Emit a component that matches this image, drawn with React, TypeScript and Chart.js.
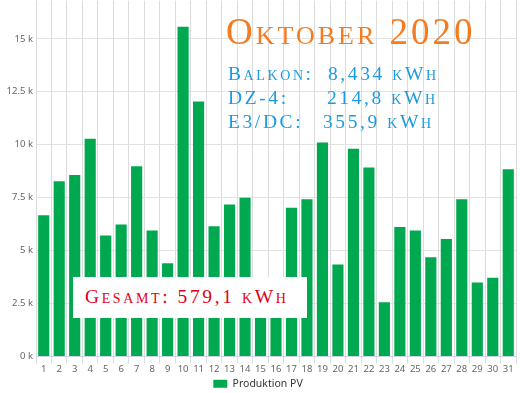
import React, { useEffect, useRef } from "react";
import { Chart, registerables } from "chart.js";

Chart.register(...registerables);

const days = ["1","2","3","4","5","6","7","8","9","10","11","12","13","14","15","16","17","18","19","20","21","22","23","24","25","26","27","28","29","30","31"];
const production = [6670, 8280, 8570, 10280, 5710, 6230, 8980, 5950, 4400, 15570, 12040, 6150, 7180, 7490, 3200, 3300, 7020, 7420, 10100, 4340, 9810, 8930, 2560, 6120, 5950, 4690, 5550, 7420, 3500, 3720, 8840];
const yTicks = [0, 2500, 5000, 7500, 10000, 12500, 15000];
const seriesName = "Produktion PV";
const titleText = "Oktober 2020";
const infoLabels = ["Balkon:", "DZ-4:", "E3/DC:"];
const infoValues = ["8,434 kWh", "214,8 kWh", "355,9 kWh"];
const totalText = "Gesamt: 579,1 kWh";

const serif = "'Liberation Serif', 'DejaVu Serif', serif";

export default function App() {
  const ref = useRef<HTMLCanvasElement | null>(null);
  useEffect(() => {
    if (!ref.current) return;
    const chart = new Chart(ref.current, {
      type: "bar",
      data: {
        labels: days,
        datasets: [
          {
            label: seriesName,
            data: production,
            backgroundColor: "#00A94F",
            borderWidth: 0,
          },
        ],
      },
      options: {
        animation: false,
        responsive: true,
        maintainAspectRatio: false,
        layout: { padding: { top: 0, right: 4, left: 0, bottom: 0 } },
        plugins: {
          tooltip: { enabled: false },
          legend: {
            position: "bottom",
            labels: {
              boxWidth: 14,
              boxHeight: 8,
              padding: 4,
              color: "#333",
              font: { family: "'Noto Sans', sans-serif", size: 10.5 },
            },
          },
        },
        scales: {
          x: {
            afterFit: (s: any) => {
              s.height = 18;
            },
            grid: { color: "#dcdcdc", tickLength: 7, offset: true },
            border: { color: "#ccd6eb" },
            ticks: {
              color: "#666",
              padding: 0,
              maxRotation: 0,
              autoSkip: false,
              font: { family: "'Noto Sans', sans-serif", size: 9.5 },
            },
          },
          y: {
            min: 0,
            max: 16800,
            afterFit: (s: any) => {
              s.width = 36;
            },
            afterBuildTicks: (s: any) => {
              s.ticks = yTicks.map((v) => ({ value: v }));
            },
            grid: { color: "#e2e2e2", drawTicks: false },
            border: { display: false },
            ticks: {
              padding: 3,
              color: "#666",
              font: { family: "'Noto Sans', sans-serif", size: 9.5 },
              callback: (v: any) => Number(v) / 1000 + " k",
            },
          },
        },
      },
    });
    return () => chart.destroy();
  }, []);

  const infoStyle = (left: number, i: number): React.CSSProperties => ({
    position: "absolute",
    left,
    top: 61 + i * 24,
    fontFamily: serif,
    fontVariant: "small-caps",
    fontSize: 19.5,
    lineHeight: "26px",
    letterSpacing: 2.6,
    color: "#1A9BE0",
    whiteSpace: "nowrap",
  });

  return (
    <div style={{ position: "fixed", left: 0, top: 0, width: 520, height: 393, background: "#fff", overflow: "hidden" }}>
      <div style={{ position: "absolute", left: 0, top: -8, width: 520, height: 407 }}>
        <canvas ref={ref} />
      </div>
      <div
        style={{
          position: "absolute",
          left: 226,
          top: 10,
          fontFamily: serif,
          fontVariant: "small-caps",
          fontSize: 37,
          lineHeight: "44px",
          letterSpacing: 3,
          color: "#F47B20",
          whiteSpace: "nowrap",
        }}
      >
        {titleText}
      </div>
      {infoLabels.map((l, i) => (
        <div key={l}>
          <div style={infoStyle(228, i)}>{l}</div>
          <div style={infoStyle([328, 327, 323][i], i)}>{infoValues[i]}</div>
        </div>
      ))}
      <div
        style={{
          position: "absolute",
          left: 73,
          top: 277,
          width: 234,
          height: 41,
          background: "#fff",
        }}
      />
      <div
        style={{
          position: "absolute",
          left: 85,
          top: 284,
          fontFamily: serif,
          fontVariant: "small-caps",
          fontSize: 19.5,
          lineHeight: "26px",
          letterSpacing: 2.6,
          color: "#E2001A",
          whiteSpace: "nowrap",
        }}
      >
        {totalText}
      </div>
    </div>
  );
}
